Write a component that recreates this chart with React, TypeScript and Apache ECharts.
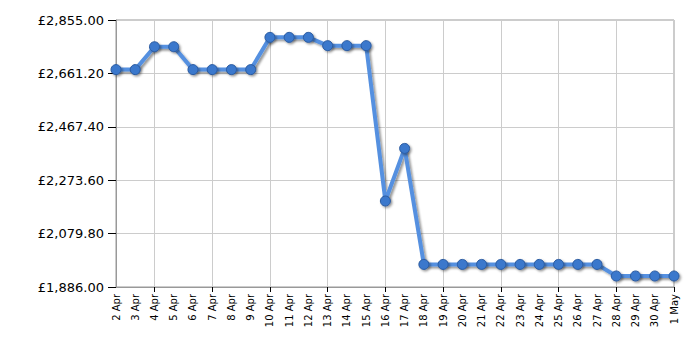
import React, { useEffect, useRef } from "react";
import * as echarts from "echarts";

const categories = [
  "2 Apr", "3 Apr", "4 Apr", "5 Apr", "6 Apr", "7 Apr", "8 Apr", "9 Apr", "10 Apr", "11 Apr",
  "12 Apr", "13 Apr", "14 Apr", "15 Apr", "16 Apr", "17 Apr", "18 Apr", "19 Apr", "20 Apr", "21 Apr",
  "22 Apr", "23 Apr", "24 Apr", "25 Apr", "26 Apr", "27 Apr", "28 Apr", "29 Apr", "30 Apr", "1 May",
];

const prices = [
  2675, 2675, 2758, 2758, 2675, 2675, 2675, 2675, 2792, 2792,
  2792, 2762, 2762, 2762, 2198, 2389, 1968, 1968, 1968, 1968,
  1968, 1968, 1968, 1968, 1968, 1968, 1926, 1926, 1926, 1926,
];

const yMin = 1886;
const yMax = 2855;
const yStep = 193.8;

export default function App() {
  const ref = useRef<HTMLDivElement>(null);
  useEffect(() => {
    if (!ref.current) return;
    const chart = echarts.init(ref.current, null, { renderer: "svg" });
    const every3 = (i: number) => i % 3 === 2;
    chart.setOption({
      animation: false,
      grid: {
        left: 116,
        right: 26,
        top: 20,
        bottom: 63,
        show: true,
        borderColor: "#999",
        borderWidth: 1,
      },
      xAxis: {
        type: "category",
        data: categories,
        boundaryGap: false,
        axisLine: { lineStyle: { color: "#999" } },
        axisTick: { show: true, interval: every3, length: 5, lineStyle: { color: "#000" } },
        splitLine: { show: true, interval: every3, lineStyle: { color: "#ccc" } },
        axisLabel: {
          interval: 0,
          rotate: 90,
          fontFamily: "DejaVu Sans",
          fontSize: 10,
          color: "#000",
          margin: 7,
        },
      },
      yAxis: {
        type: "value",
        min: yMin,
        max: yMax,
        interval: yStep,
        axisLine: { show: true, lineStyle: { color: "#999" } },
        axisTick: { show: true, length: 8, lineStyle: { color: "#000" } },
        splitLine: { show: true, lineStyle: { color: "#ccc" } },
        axisLabel: {
          fontFamily: "DejaVu Sans",
          fontSize: 13,
          color: "#000",
          margin: 12,
          formatter: (v: number) =>
            "£" + v.toLocaleString("en-GB", { minimumFractionDigits: 2, maximumFractionDigits: 2 }),
        },
      },
      series: [
        {
          type: "line",
          data: prices,
          symbol: "circle",
          symbolSize: 10,
          lineStyle: {
            color: "#5590e0",
            width: 4,
            shadowColor: "rgba(0,0,0,0.4)",
            shadowBlur: 2,
            shadowOffsetX: 2,
            shadowOffsetY: 2,
          },
          itemStyle: {
            color: "#3a78cc",
            borderColor: "#2a5aa0",
            borderWidth: 1,
            shadowColor: "rgba(0,0,0,0.4)",
            shadowBlur: 2,
            shadowOffsetX: 1.5,
            shadowOffsetY: 1.5,
          },
        },
      ],
    });
    return () => chart.dispose();
  }, []);
  return <div ref={ref} style={{ width: 700, height: 350, margin: -8 }} />;
}
